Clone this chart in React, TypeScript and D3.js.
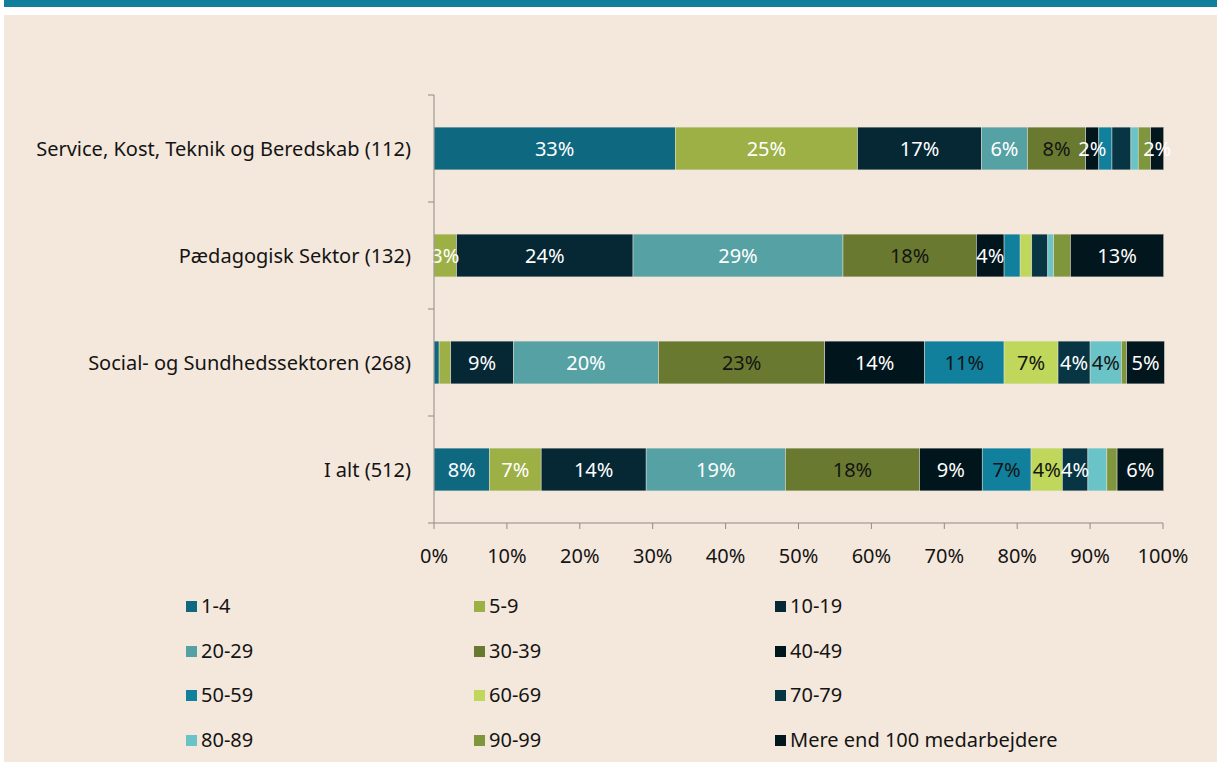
import React from 'react';
import * as d3 from 'd3';

const categories = [
  'Service, Kost, Teknik og Beredskab (112)',
  'Pædagogisk Sektor (132)',
  'Social- og Sundhedssektoren (268)',
  'I alt (512)',
];

const buckets = [
  '1-4', '5-9', '10-19', '20-29', '30-39', '40-49',
  '50-59', '60-69', '70-79', '80-89', '90-99', 'Mere end 100 medarbejdere',
];

const colors = [
  '#0e6880', '#9cb046', '#062835', '#55a1a4', '#697a30', '#01151d',
  '#10809d', '#bfd75a', '#083543', '#6ac3c7', '#80963c', '#02161e',
];

// buckets whose labels are drawn in dark text
const darkText = ['30-39', '50-59', '60-69', '80-89'];

// percent per bucket, one array per category
const serviceValues = [33.1, 25.0, 17.0, 6.3, 8.0, 1.8, 1.8, 0, 2.6, 1.0, 1.7, 1.8];
const paedagogiskValues = [0, 3.1, 24.2, 28.8, 18.3, 3.8, 2.2, 1.6, 2.2, 0.8, 2.3, 12.8];
const socialValues = [0.7, 1.6, 8.6, 19.9, 22.8, 13.7, 10.9, 7.4, 4.4, 4.3, 0.7, 5.2];
const totalValues = [7.6, 7.1, 14.4, 19.1, 18.4, 8.6, 6.7, 4.3, 3.5, 2.6, 1.4, 6.4];

// which buckets carry a data label in each row
const serviceLabels = ['1-4', '5-9', '10-19', '20-29', '30-39', '40-49', 'Mere end 100 medarbejdere'];
const paedagogiskLabels = ['5-9', '10-19', '20-29', '30-39', '40-49', 'Mere end 100 medarbejdere'];
const socialLabels = ['10-19', '20-29', '30-39', '40-49', '50-59', '60-69', '70-79', '80-89', 'Mere end 100 medarbejdere'];
const totalLabels = ['1-4', '5-9', '10-19', '20-29', '30-39', '40-49', '50-59', '60-69', '70-79', 'Mere end 100 medarbejdere'];

const xTicks = [0, 10, 20, 30, 40, 50, 60, 70, 80, 90, 100];

const W = 1217;
const H = 765;
const font = "'Noto Sans', 'Open Sans', sans-serif";
const fs = 20;

export default function App() {
  const rows = [serviceValues, paedagogiskValues, socialValues, totalValues];
  const labelSets = [serviceLabels, paedagogiskLabels, socialLabels, totalLabels];

  const table = categories.map((c, i) => {
    const row: any = { category: c };
    buckets.forEach((b, j) => (row[b] = rows[i][j]));
    return row;
  });
  const stack = d3.stack<any>().keys(buckets)(table);

  const x = d3.scaleLinear().domain([0, 100]).range([434, 1163]);
  const y = d3.scaleBand().domain(categories).range([95, 523]).paddingInner(0.6).paddingOuter(0.3);
  const color = d3.scaleOrdinal<string, string>().domain(buckets).range(colors);
  const axisColor = '#8f8a85';

  const legendCols = [186, 474, 775];
  const legendRows = [606, 651, 695, 740];

  return (
    <svg width={W} height={H} style={{ position: 'absolute', left: 0, top: 0 }}>
      <rect x={0} y={0} width={W} height={H} fill="#ffffff" />
      <rect x={4} y={0} width={W - 4} height={7} fill="#0f7f9b" />
      <rect x={4} y={15} width={W - 4} height={747} fill="#f4e8dc" />

      {/* bars */}
      {stack.map((s) => (
        <g key={s.key} fill={color(s.key)}>
          {s.map((d, i) => (
            <rect
              key={i}
              x={x(d[0])}
              y={y(d.data.category)}
              width={Math.max(0, x(d[1]) - x(d[0]))}
              height={y.bandwidth()}
              stroke="#e6e0d8"
              strokeWidth={0.5}
            />
          ))}
        </g>
      ))}

      {/* data labels */}
      {stack.map((s) => (
        <g key={'l' + s.key}>
          {s.map((d, i) => {
            const v = d[1] - d[0];
            if (!labelSets[i].includes(s.key)) return null;
            return (
              <text
                key={i}
                x={(x(d[0]) + x(d[1])) / 2}
                y={(y(d.data.category) as number) + y.bandwidth() / 2}
                dy="0.35em"
                textAnchor="middle"
                fontFamily={font}
                fontSize={fs}
                fill={darkText.includes(s.key) ? '#141414' : '#ffffff'}
              >
                {Math.round(v) + '%'}
              </text>
            );
          })}
        </g>
      ))}

      {/* y axis */}
      <line x1={434} x2={434} y1={95} y2={523} stroke={axisColor} strokeWidth={1} />
      {[...categories.map((c) => y(c) as number - y.step() * y.paddingInner() / 2), 523].map((t, i) => (
        <line key={i} x1={428} x2={434} y1={t} y2={t} stroke={axisColor} />
      ))}
      {categories.map((c) => (
        <text
          key={c}
          x={411}
          y={(y(c) as number) + y.bandwidth() / 2}
          dy="0.35em"
          textAnchor="end"
          fontFamily={font}
          fontSize={fs}
          fill="#141414"
        >
          {c}
        </text>
      ))}

      {/* x axis */}
      <line x1={434} x2={1163} y1={523} y2={523} stroke={axisColor} />
      {xTicks.map((t) => (
        <g key={t}>
          <line x1={x(t)} x2={x(t)} y1={523} y2={529} stroke={axisColor} />
          <text
            x={x(t)}
            y={556}
            dy="0.35em"
            textAnchor="middle"
            fontFamily={font}
            fontSize={fs}
            fill="#141414"
          >
            {t + '%'}
          </text>
        </g>
      ))}

      {/* legend */}
      {buckets.map((b, i) => {
        const cx = legendCols[i % 3];
        const cy = legendRows[Math.floor(i / 3)];
        return (
          <g key={b}>
            <rect x={cx} y={cy - 5} width={11} height={11} fill={color(b)} />
            <text x={cx + 15} y={cy} dy="0.35em" fontFamily={font} fontSize={fs} fill="#141414">
              {b}
            </text>
          </g>
        );
      })}
    </svg>
  );
}
